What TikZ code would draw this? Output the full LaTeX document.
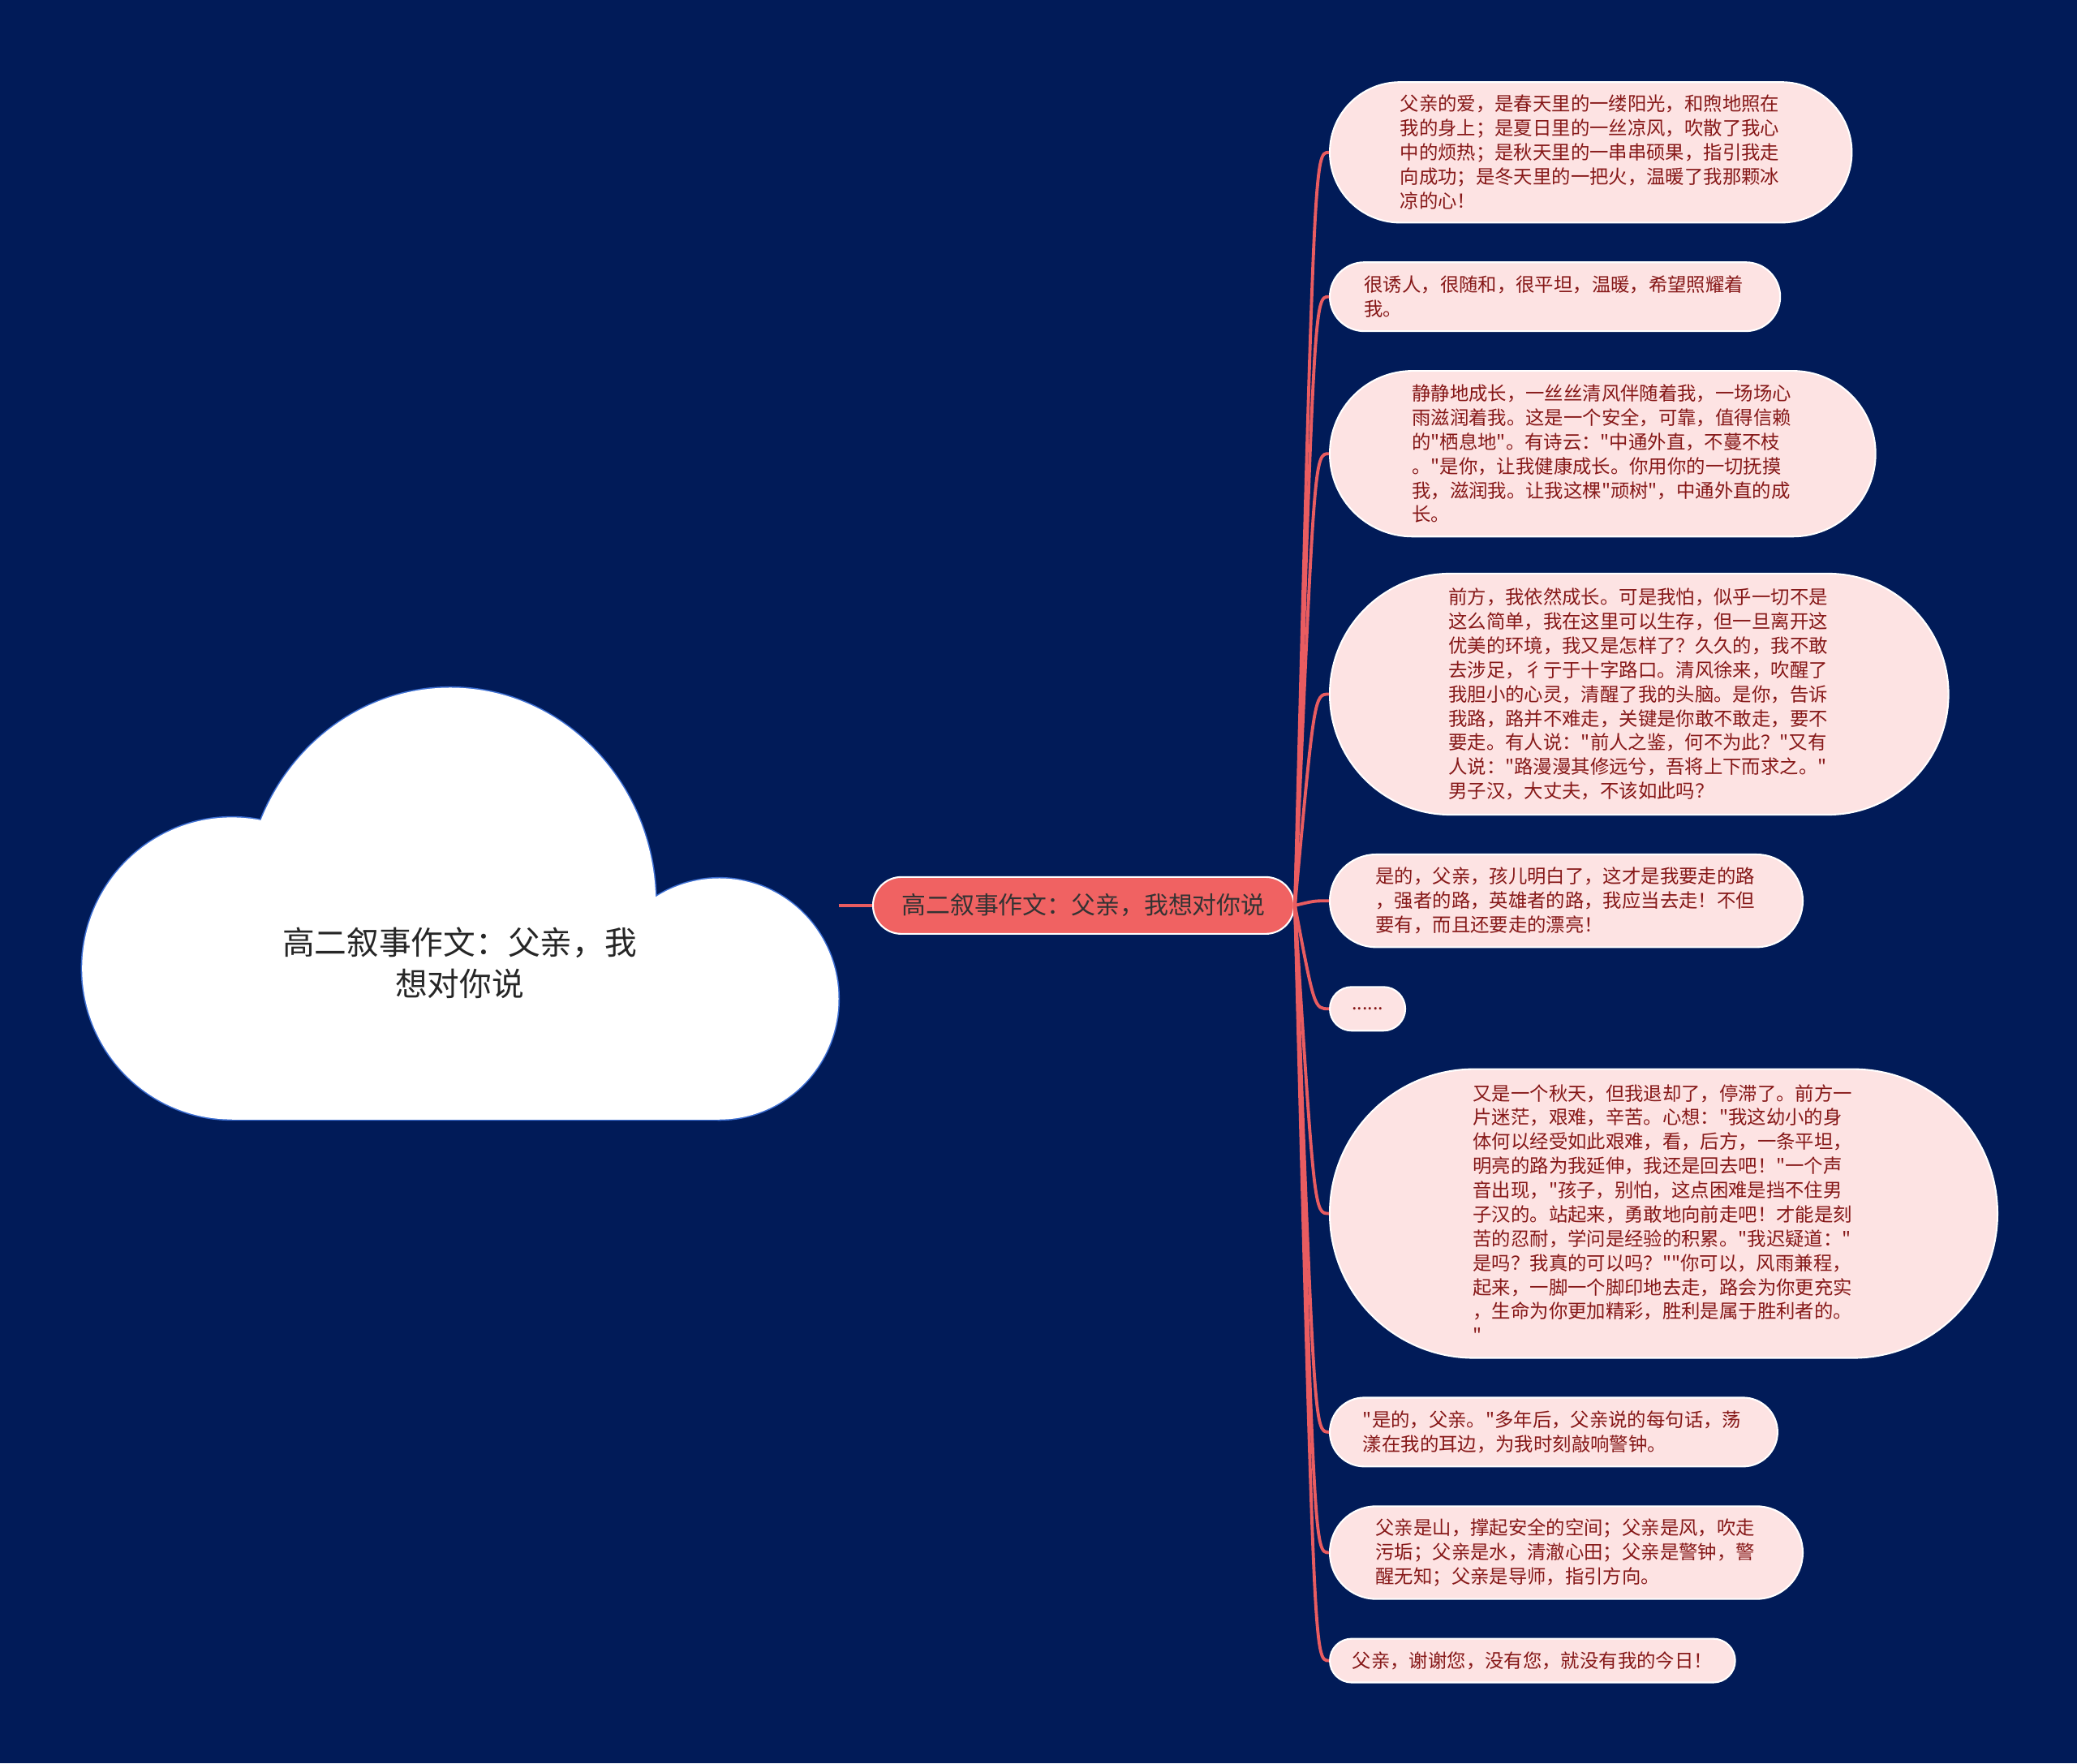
\documentclass[tikz,border=0pt]{standalone}
\usepackage{fontspec}
\setmainfont{Noto Sans CJK SC}[Ligatures=TeXOff]
\usepackage{tikz}
\definecolor{bgnavy}{HTML}{011B58}
\definecolor{linkc}{HTML}{E95C60}
\definecolor{topicc}{HTML}{F06262}
\definecolor{leafc}{HTML}{FDE3E3}
\definecolor{leaftxt}{HTML}{861818}
\definecolor{cloudc}{HTML}{3C6ED2}

\begin{document}
\begin{tikzpicture}[
  leaf/.style={rectangle,draw=white,line width=0.6pt,fill=leafc,text=leaftxt,
    minimum height=#1,rounded corners={0.5*#1},
    font={\fontsize{6.65}{8.5}\selectfont},inner sep=0pt,anchor=west},
  para/.style={leaf=#1,text width=4.7cm,align=left},
  link/.style={linkc,line width=1.1pt}]
  \fill[bgnavy] (0,0) rectangle (25.6,21.73);
  % cloud: blue outline first, white fill on top leaves only the outer edge
  \draw[cloudc,line width=0.9pt] (2.857,9.795) ellipse (1.845 and 1.861)
        (5.551,10.595) ellipse (2.531 and 2.66)
        (8.866,9.419) ellipse (1.469 and 1.486)
        (2.857,7.934) rectangle (8.866,10.30);
  \fill[white] (2.857,9.795) ellipse (1.845 and 1.861);
  \fill[white] (5.551,10.595) ellipse (2.531 and 2.66);
  \fill[white] (8.866,9.419) ellipse (1.469 and 1.486);
  \fill[white] (2.857,7.934) rectangle (8.866,10.30);
  \node[font={\fontsize{11.3}{14.4}\selectfont},align=center,text=black!85]
        (c) at (5.665,9.86) {高二叙事作文：父亲，我\\想对你说};
  % topic
  \node[rectangle,rounded corners=0.35cm,draw=white,line width=0.6pt,fill=topicc,text=black!80,
        font={\fontsize{8.5}{10}\selectfont},minimum height=0.7cm,minimum width=5.19cm,inner sep=0pt]
        (t) at (13.355,10.571) {高二叙事作文：父亲，我想对你说};
  \coordinate (cE) at (10.335,10.571);
  \draw[link] (cE) -- (t.west);
  % branches
  \node[para=1.731cm,minimum width=6.433cm] (b1) at (16.38,19.852) {父亲的爱，是春天里的一缕阳光，和煦地照在\\
我的身上；是夏日里的一丝凉风，吹散了我心\\
中的烦热；是秋天里的一串串硕果，指引我走\\
向成功；是冬天里的一把火，温暖了我那颗冰\\
凉的心！};
  \node[para=0.849cm,minimum width=5.551cm] (b2) at (16.38,18.073) {很诱人，很随和，很平坦，温暖，希望照耀着\\
我。};
  \node[para=2.041cm,minimum width=6.726cm] (b3) at (16.38,16.138) {静静地成长，一丝丝清风伴随着我，一场场心\\
雨滋润着我。这是一个安全，可靠，值得信赖\\
的"栖息地"。有诗云："中通外直，不蔓不枝\\
。"是你，让我健康成长。你用你的一切抚摸\\
我，滋润我。让我这棵"顽树"，中通外直的成\\
长。};
  \node[para=2.971cm,minimum width=7.625cm] (b4) at (16.38,13.175) {前方，我依然成长。可是我怕，似乎一切不是\\
这么简单，我在这里可以生存，但一旦离开这\\
优美的环境，我又是怎样了？久久的，我不敢\\
去涉足，彳亍于十字路口。清风徐来，吹醒了\\
我胆小的心灵，清醒了我的头脑。是你，告诉\\
我路，路并不难走，关键是你敢不敢走，要不\\
要走。有人说："前人之鉴，何不为此？"又有\\
人说："路漫漫其修远兮，吾将上下而求之。"\\
男子汉，大丈夫，不该如此吗？};
  \node[para=1.143cm,minimum width=5.829cm] (b5) at (16.38,10.628) {是的，父亲，孩儿明白了，这才是我要走的路\\
，强者的路，英雄者的路，我应当去走！不但\\
要有，而且还要走的漂亮！};
  \node[leaf=0.539cm,minimum width=0.93cm] (b6) at (16.38,9.297) {......};
  \node[para=3.559cm,minimum width=8.229cm] (b7) at (16.38,6.774) {又是一个秋天，但我退却了，停滞了。前方一\\
片迷茫，艰难，辛苦。心想："我这幼小的身\\
体何以经受如此艰难，看，后方，一条平坦，\\
明亮的路为我延伸，我还是回去吧！"一个声\\
音出现，"孩子，别怕，这点困难是挡不住男\\
子汉的。站起来，勇敢地向前走吧！才能是刻\\
苦的忍耐，学问是经验的积累。"我迟疑道："\\
是吗？我真的可以吗？""你可以，风雨兼程，\\
起来，一脚一个脚印地去走，路会为你更充实\\
，生命为你更加精彩，胜利是属于胜利者的。\\
"};
  \node[para=0.849cm,minimum width=5.518cm] (b8) at (16.38,4.081) {"是的，父亲。"多年后，父亲说的每句话，荡\\
漾在我的耳边，为我时刻敲响警钟。};
  \node[para=1.143cm,minimum width=5.829cm] (b9) at (16.38,2.595) {父亲是山，撑起安全的空间；父亲是风，吹走\\
污垢；父亲是水，清澈心田；父亲是警钟，警\\
醒无知；父亲是导师，指引方向。};
  \node[leaf=0.539cm,minimum width=4.996cm] (b10) at (16.38,1.264) {父亲，谢谢您，没有您，就没有我的今日！};
  % connectors: out of the topic's right end, into each branch's left end
  \coordinate (hub) at (16.2,10.571);
  \draw[link] (t.east) .. controls (hub |- b1.west) .. (b1.west);
  \draw[link] (t.east) .. controls (hub |- b2.west) .. (b2.west);
  \draw[link] (t.east) .. controls (hub |- b3.west) .. (b3.west);
  \draw[link] (t.east) .. controls (hub |- b4.west) .. (b4.west);
  \draw[link] (t.east) .. controls (hub |- b5.west) .. (b5.west);
  \draw[link] (t.east) .. controls (hub |- b6.west) .. (b6.west);
  \draw[link] (t.east) .. controls (hub |- b7.west) .. (b7.west);
  \draw[link] (t.east) .. controls (hub |- b8.west) .. (b8.west);
  \draw[link] (t.east) .. controls (hub |- b9.west) .. (b9.west);
  \draw[link] (t.east) .. controls (hub |- b10.west) .. (b10.west);
\end{tikzpicture}
\end{document}
